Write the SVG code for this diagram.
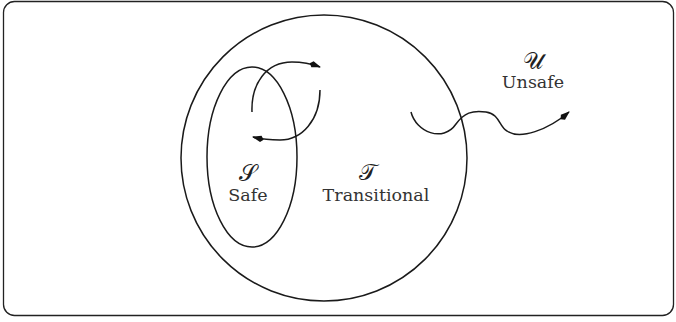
<svg xmlns="http://www.w3.org/2000/svg" width="676" height="322" viewBox="0 0 676 322">
<defs>
<style>
.ln{fill:none;stroke:#1a1a1a;stroke-width:1.5}
.t{font-family:"DejaVu Serif","Liberation Serif",serif;font-size:17.5px;fill:#333;text-anchor:middle}
.m{font-family:"DejaVu Serif","Noto Sans","DejaVu Sans",serif;font-size:23px;fill:#222;text-anchor:middle}
</style>
<marker id="ah" viewBox="0 0 12 8" refX="11" refY="4" markerWidth="12" markerHeight="8" markerUnits="userSpaceOnUse" orient="auto">
<path d="M0,4 L3,0.8 L12,4 L3,7.2 Z" fill="#111"/>
</marker>
</defs>
<rect x="3.5" y="1.5" width="670" height="314" rx="11" fill="#fff" stroke="#222" stroke-width="1.3"/>
<g id="transitional">
<circle class="ln" cx="324" cy="158" r="143"/>
<text class="m" x="368" y="180">𝒯</text>
<text class="t" x="376" y="201">Transitional</text>
</g>
<g id="safe">
<ellipse class="ln" cx="252" cy="157" rx="45" ry="90"/>
<text class="m" x="248" y="181">𝒮</text>
<text class="t" x="248" y="201">Safe</text>
</g>
<g id="unsafe">
<text class="m" x="533" y="69">𝒰</text>
<text class="t" x="533" y="88">Unsafe</text>
</g>
<g id="connectors">
<path class="ln" marker-end="url(#ah)" d="M252,112 C251,84 266,62 292,62 C303,62 312,64 320,67"/>
<path class="ln" marker-end="url(#ah)" d="M320,90 C320,120 302,140 280,140 C270,140 261,139 253,137"/>
<path class="ln" marker-end="url(#ah)" d="M411,112 C416,132 443,143 456,124 C464,113 472,110 486,112 C500,114 499,127 507,131 C520,140 548,130 569,112"/>
</g>
</svg>
